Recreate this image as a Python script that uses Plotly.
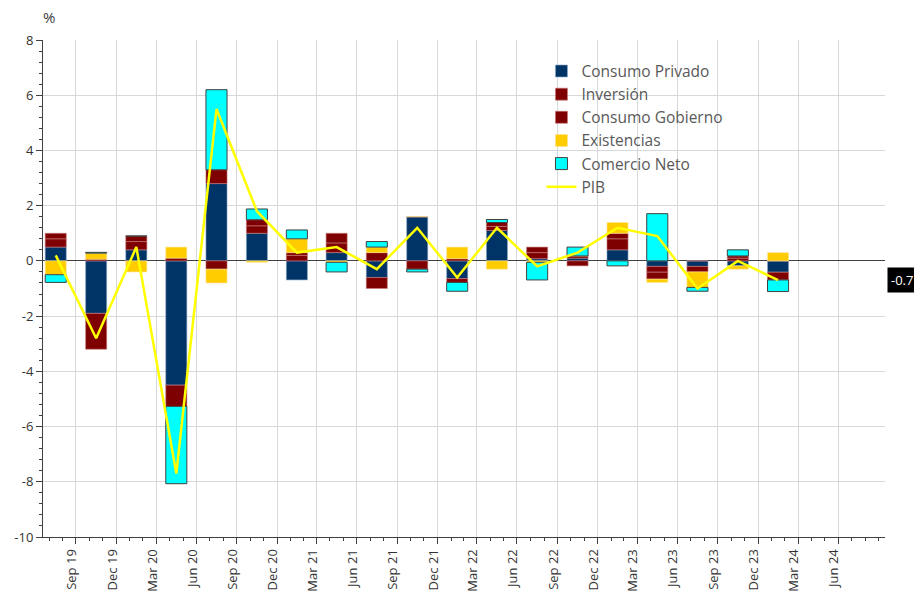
import pandas as pd
import plotly.graph_objects as go

quarters = ["2019Q3", "2019Q4", "2020Q1", "2020Q2", "2020Q3", "2020Q4", "2021Q1", "2021Q2",
            "2021Q3", "2021Q4", "2022Q1", "2022Q2", "2022Q3", "2022Q4", "2023Q1", "2023Q2",
            "2023Q3", "2023Q4", "2024Q1"]
consumo_privado = [0.5, -1.9, 0.4, -4.5, 2.8, 1.0, -0.69, 0.3, -0.6, 1.6, -0.64, 1.1, 0.08,
                   0.1, 0.4, -0.2, -0.2, -0.18, -0.41]
inversion = [0.3, -1.3, 0.3, -0.77, 0.5, 0.27, 0.2, 0.35, -0.4, -0.3, -0.14, 0.15, 0.22,
             -0.18, 0.4, -0.21, -0.2, 0.1, -0.28]
consumo_gobierno = [0.2, 0.06, 0.2, 0.1, -0.3, 0.22, 0.1, 0.35, 0.3, 0.0, 0.08, 0.14, 0.2,
                    0.08, 0.2, -0.25, 0.0, 0.08, 0.0]
existencias = [-0.5, 0.22, -0.4, 0.4, -0.5, -0.05, 0.5, -0.05, 0.2, 0.0, 0.42, -0.3, -0.05,
               0.0, 0.39, -0.12, -0.56, -0.12, 0.3]
comercio_neto = [-0.28, 0.03, 0.0, -2.8, 2.9, 0.39, 0.32, -0.35, 0.2, -0.1, -0.32, 0.11, -0.64,
                 0.32, -0.18, 1.71, -0.14, 0.22, -0.42]
pib = [0.2, -2.8, 0.5, -7.7, 5.5, 1.8, 0.3, 0.5, -0.3, 1.2, -0.6, 1.2, -0.2, 0.3, 1.2, 0.9,
       -1.0, 0.0, -0.7]
tick_quarters = ["2019Q3", "2019Q4", "2020Q1", "2020Q2", "2020Q3", "2020Q4", "2021Q1", "2021Q2",
                 "2021Q3", "2021Q4", "2022Q1", "2022Q2", "2022Q3", "2022Q4", "2023Q1", "2023Q2",
                 "2023Q3", "2023Q4", "2024Q1", "2024Q2"]
y_ticks = [8, 6, 4, 2, 0, -2, -4, -6, -8, -10]

periods = [pd.Period(q, freq="Q") for q in quarters]
x_mid = [p.start_time + (p.end_time - p.start_time) / 2 for p in periods]
tick_periods = [pd.Period(q, freq="Q") for q in tick_quarters]
tick_vals = [(p.end_time + pd.Timedelta(seconds=1)).normalize() for p in tick_periods]
tick_text = [p.end_time.strftime("%b %y") for p in tick_periods]

BAR_W = 48 * 86400000
FONT = "Open Sans"

series = [
    ("Consumo Privado", consumo_privado, "#003366", "rgba(140,170,200,0.6)"),
    ("Inversión", inversion, "#7f0000", "rgba(200,120,120,0.6)"),
    ("Consumo Gobierno", consumo_gobierno, "#7f0000", "rgba(200,120,120,0.6)"),
    ("Existencias", existencias, "#ffcc00", "rgba(255,230,150,0.6)"),
    ("Comercio Neto", comercio_neto, "#00ffff", "#404040"),
]

fig = go.Figure()
for i, (name, vals, col, lcol) in enumerate(series):
    fig.add_trace(go.Bar(
        x=x_mid, y=vals, name=name, width=BAR_W, legendgroup=f"g{i}",
        marker=dict(color=col, line=dict(color=lcol, width=1)),
    ))
fig.add_trace(go.Scatter(
    x=x_mid, y=pib, name="PIB", mode="lines", legendgroup="g5",
    line=dict(color="#ffff00", width=2.5),
))

# the page body has an 8px margin; the figure is sized/margined to compensate
fig.update_layout(
    width=914, height=593,
    margin=dict(l=35, r=37, t=32, b=64, autoexpand=False),
    barmode="relative",
    plot_bgcolor="white", paper_bgcolor="white",
    font=dict(family=FONT, size=13, color="#333333"),
    showlegend=True,
    legend=dict(
        x=0.592, y=0.971, xanchor="left", yanchor="top",
        bgcolor="rgba(0,0,0,0)", traceorder="normal", tracegroupgap=0.5,
        font=dict(family=FONT, size=15.5, color="#595959"),
    ),
    xaxis=dict(
        type="date", automargin=False,
        range=["2019-07-18", "2024-10-16"],
        tickmode="array", tickvals=tick_vals, ticktext=tick_text,
        tickangle=-90, ticks="outside", ticklen=6, tickcolor="#404040",
        tickfont=dict(size=13, color="#333333"),
        showgrid=True, gridcolor="#d5d9dc", gridwidth=1,
        showline=True, linecolor="#404040", linewidth=1,
        zeroline=False,
        minor=dict(ticks="outside", ticklen=3, tickcolor="#404040",
                   dtick="M1", tick0="2019-07-01", showgrid=False),
        ticklabelshift=-4,
    ),
    yaxis=dict(
        range=[-10, 8], automargin=False,
        tickmode="array", tickvals=y_ticks, ticktext=[str(v) for v in y_ticks],
        ticks="outside", ticklen=6, tickcolor="#404040",
        tickfont=dict(size=13, color="#333333"),
        showgrid=True, gridcolor="#d5d9dc", gridwidth=1,
        showline=True, linecolor="#404040", linewidth=1,
        zeroline=True, zerolinecolor="#404040", zerolinewidth=1,
        minor=dict(ticks="outside", ticklen=3, tickcolor="#404040",
                   dtick=0.4, tick0=0, showgrid=False),
    ),
)

fig.add_annotation(
    text="%", xref="paper", yref="paper", x=0.0, y=1.0, xanchor="left", yanchor="middle",
    xshift=-2, yshift=23, showarrow=False,
    font=dict(family=FONT, size=15, color="#404040"),
)
fig.add_annotation(
    text=f"{pib[-1]:.1f}", xref="paper", yref="y", x=1.0, y=pib[-1],
    xanchor="left", yanchor="middle", xshift=2, showarrow=False,
    bgcolor="black", borderpad=3,
    font=dict(family=FONT, size=13, color="white"),
)

fig.write_html("out.html")
